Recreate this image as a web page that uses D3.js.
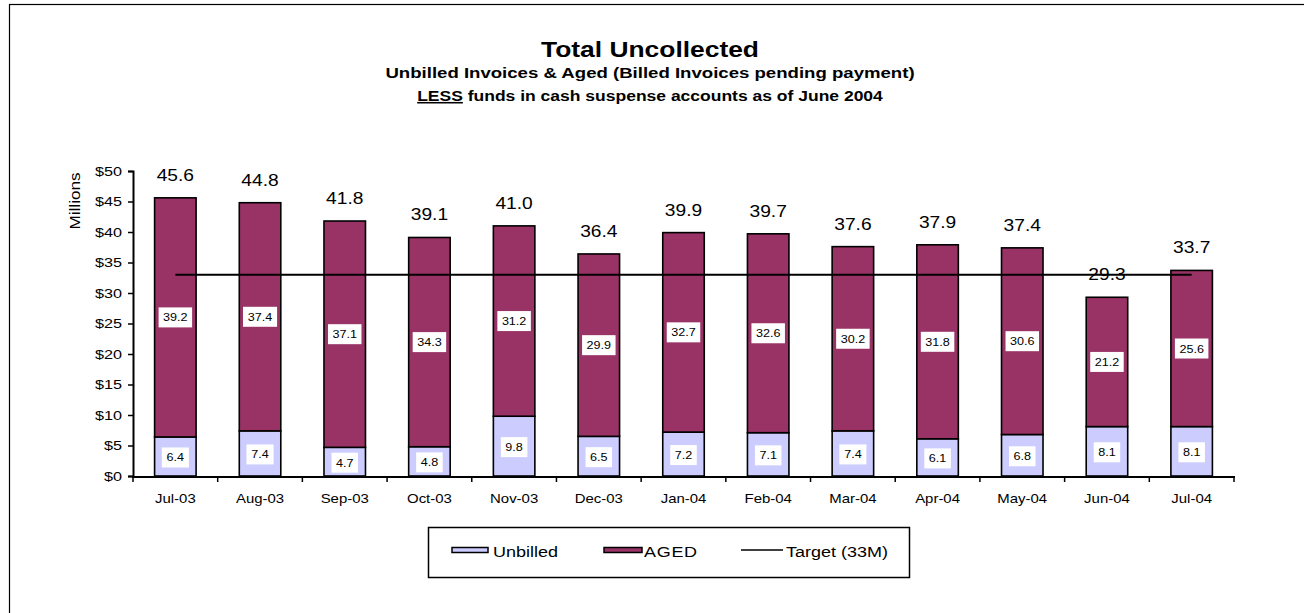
<!DOCTYPE html>
<html><head><meta charset="utf-8">
<script src="https://cdn.jsdelivr.net/npm/d3@7"></script>
<style>body{margin:0;background:#fff;}svg{display:block;font-family:"Liberation Sans",Arial,sans-serif;}</style>
</head><body><svg id="c" width="1304" height="613"></svg>
<script>
const months = ["Jul-03","Aug-03","Sep-03","Oct-03","Nov-03","Dec-03","Jan-04","Feb-04","Mar-04","Apr-04","May-04","Jun-04","Jul-04"];
const unbilled = [6.4,7.4,4.7,4.8,9.8,6.5,7.2,7.1,7.4,6.1,6.8,8.1,8.1];
const aged = [39.2,37.4,37.1,34.3,31.2,29.9,32.7,32.6,30.2,31.8,30.6,21.2,25.6];
const totals = [45.6,44.8,41.8,39.1,41.0,36.4,39.9,39.7,37.6,37.9,37.4,29.3,33.7];
const target = 33;
const yTicks = [0,5,10,15,20,25,30,35,40,45,50];

const SX = 1.2;
const svg = d3.select("#c");
svg.append("rect").attr("x",9.5).attr("y",4.5).attr("width",1400).attr("height",700)
  .attr("fill","none").attr("stroke","#000").attr("stroke-width",1.2);

function txt(parent, x, y, s, size, anchor, opts){
  opts = opts || {};
  const t = parent.append("text")
    .attr("transform", `translate(${x},${y})${opts.rot?` rotate(${opts.rot})`:""} scale(${opts.sx||SX},1)`)
    .attr("text-anchor", anchor||"middle").attr("font-size", size);
  if (opts.bold) t.attr("font-weight","bold");
  if (opts.ls) t.attr("letter-spacing", opts.ls);
  if (s !== null) t.text(s);
  return t;
}

const x = d3.scaleBand().domain(months).range([133,1234]).padding(0);
const y = d3.scaleLinear().domain([0,50]).range([476,171]);
const bw = x.bandwidth()*0.49;
const cx = m => x(m)+x.bandwidth()/2;

// titles
txt(svg, 650, 57, "Total Uncollected", 22, "middle", {bold:true, sx:1.2});
txt(svg, 650, 78, "Unbilled Invoices & Aged (Billed Invoices pending payment)", 15.5, "middle", {bold:true, sx:1.2});
const t3 = txt(svg, 650, 101, null, 15.5, "middle", {bold:true, sx:1.13});
t3.append("tspan").attr("text-decoration","underline").text("LESS");
t3.append("tspan").text(" funds in cash suspense accounts as of June 2004");

// bars
const g = svg.append("g");
g.selectAll("rect.u").data(months).join("rect").attr("class","u")
  .attr("x",d=>cx(d)-bw/2).attr("y",(d,i)=>y(unbilled[i])).attr("width",bw)
  .attr("height",(d,i)=>y(0)-y(unbilled[i])).attr("fill","#ccccff").attr("stroke","#000").attr("stroke-width",1.6);
g.selectAll("rect.a").data(months).join("rect").attr("class","a")
  .attr("x",d=>cx(d)-bw/2).attr("y",(d,i)=>y(unbilled[i]+aged[i])).attr("width",bw)
  .attr("height",(d,i)=>y(unbilled[i])-y(unbilled[i]+aged[i])).attr("fill","#993366").attr("stroke","#000").attr("stroke-width",1.6);

// target line
svg.append("line").attr("x1",cx(months[0])).attr("x2",cx(months[months.length-1]))
  .attr("y1",y(target)).attr("y2",y(target)).attr("stroke","#000").attr("stroke-width",2);

// inner labels
function boxLabel(px, py, s){
  const gg = svg.append("g");
  const r = gg.append("rect").attr("fill","#fff");
  const t = txt(gg, px, py+4, s, 10.5, "middle");
  const b = t.node().getBBox();
  const w = b.width*SX + 9;
  r.attr("x",px-w/2).attr("y",py-10).attr("width",w).attr("height",20);
}
months.forEach((m,i)=>{
  boxLabel(cx(m), y(unbilled[i]/2)+1, unbilled[i].toFixed(1));
  boxLabel(cx(m), y(unbilled[i]+aged[i]/2), aged[i].toFixed(1));
  txt(svg, cx(m), y(totals[i])-17, totals[i].toFixed(1), 16, "middle");
});

// y axis
const ya = svg.append("g").attr("transform","translate(133,0)")
  .call(d3.axisLeft(y).tickValues(yTicks).tickFormat("").tickSize(5));
ya.select(".domain").attr("stroke-width",2);
ya.selectAll("line").attr("stroke-width",1.5);
yTicks.forEach(v => txt(svg, 122, y(v)+4.5, "$"+v, 13.5, "end", {sx:1.2}));

// x axis
const xa = svg.append("g").attr("transform","translate(0,477)");
xa.append("line").attr("x1",132).attr("x2",1235).attr("stroke","#000").attr("stroke-width",2);
const edges = months.map(m=>x(m)).concat([x(months[months.length-1])+x.bandwidth()]);
xa.selectAll("line.tk").data(edges).join("line").attr("class","tk")
  .attr("x1",d=>d).attr("x2",d=>d).attr("y1",0).attr("y2",5).attr("stroke","#000").attr("stroke-width",1.5);
months.forEach(m => txt(svg, cx(m), 503, m, 13, "middle", {sx:1.15}));

txt(svg, 80, 201, "Millions", 14.5, "middle", {rot:-90, sx:1.18});

// legend
const lg = svg.append("g");
lg.append("rect").attr("x",428.5).attr("y",527.5).attr("width",481).attr("height",50).attr("fill","#fff").attr("stroke","#000").attr("stroke-width",1.5);
lg.append("rect").attr("x",452).attr("y",547.5).attr("width",36).attr("height",5).attr("fill","#ccccff").attr("stroke","#000").attr("stroke-width",1.5);
txt(lg, 493, 557, "Unbilled", 15, "start");
lg.append("rect").attr("x",604).attr("y",547.5).attr("width",38).attr("height",5).attr("fill","#993366").attr("stroke","#000").attr("stroke-width",1.5);
txt(lg, 644, 557, "AGED", 15, "start", {ls:0.6});
lg.append("line").attr("x1",741).attr("x2",783).attr("y1",550).attr("y2",550).attr("stroke","#000").attr("stroke-width",1.5);
txt(lg, 786, 557, "Target (33M)", 15, "start");
</script></body></html>
